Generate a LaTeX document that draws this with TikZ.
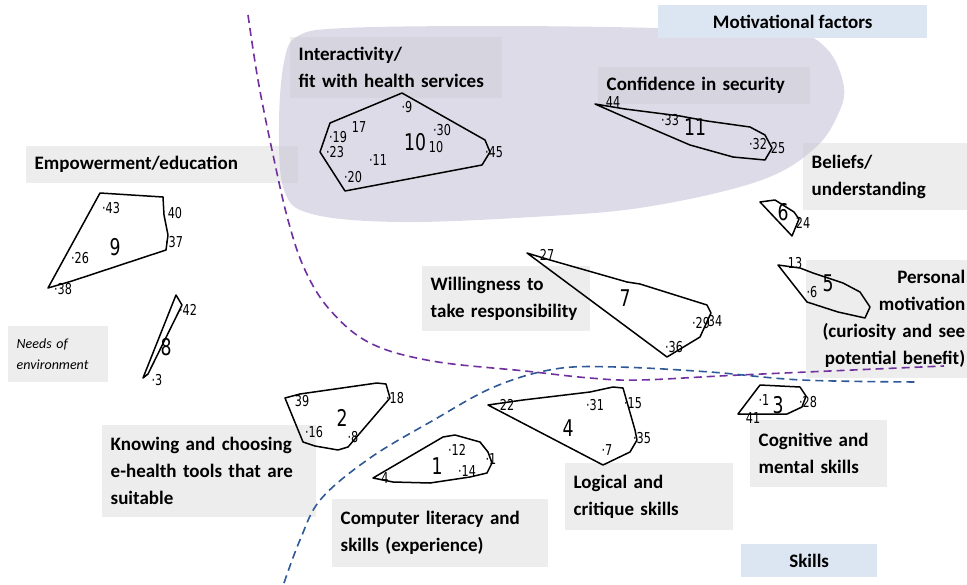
\documentclass[tikz,border=0pt]{standalone}
\usepackage{fontspec}
\setmainfont{Carlito}
\newfontfamily\numfont{DejaVu Sans}[FakeStretch=0.75]
\usepackage{tikz}
\usetikzlibrary{positioning}
\definecolor{blob}{RGB}{222,219,233}
\definecolor{labelgray}{RGB}{200,200,200}
\definecolor{factorblue}{RGB}{220,230,242}
\definecolor{divpurple}{RGB}{112,48,160}
\definecolor{divblue}{RGB}{46,89,150}

\begin{document}
\begin{tikzpicture}[x=1pt, y=-1pt,
    lbl/.style={anchor=north west, fill=labelgray, fill opacity=0.33, text opacity=1, inner xsep=8.5pt, inner ysep=0pt, align=left, font=\fontsize{19}{27}\selectfont\bfseries},
    cat/.style={anchor=north west, fill=factorblue, inner sep=0pt, align=center, font=\fontsize{19}{27}\selectfont\bfseries},
    hull/.style={draw, line width=1.5pt, line join=round},
    mem/.style={inner sep=0pt, font=\numfont\fontsize{15}{15}\selectfont},
    cid/.style={inner sep=0pt, font=\numfont\fontsize{23}{23}\selectfont},
    divider/.style={dash pattern=on 8pt off 5pt, line width=1.6pt}]
    \useasboundingbox (0,0) rectangle (967,584);

    \fill[blob] plot[smooth cycle, tension=0.6] coordinates {(298,36) (345,28) (496,26) (657,28) (789,33) (826,48) (843,82) (840,110) (815,148) (759,181) (646,207) (533,217) (400,222) (312,214) (284,190) (279,125) (284,62)};

    \node[cat, minimum width=269pt, minimum height=33pt] (motfac) at (658,5) {Motivational factors};
    \node[cat, minimum width=136pt, minimum height=33pt] (skills) at (741,544) {Skills};

    \node[lbl, text width=195pt, minimum height=61pt] (interact) at (290,37) {Interactivity/\\fit with health services};
    \node[lbl, text width=195pt, minimum height=37pt] (confid) at (598,67) {Confidence in security};
    \node[lbl, text width=255pt, minimum height=37pt] (empower) at (26,146) {Empowerment/education};
    \node[lbl, text width=155pt, minimum height=67pt] (beliefs) at (803,143) {Beliefs/\\understanding};
    \node[lbl, text width=151pt, minimum height=65pt] (willing) at (422,266) {Willingness to\\take responsibility};
    \node[lbl, inner xsep=6pt, align=right, text width=153pt, minimum height=118pt] (persmot) at (806,260) {Personal\\motivation\\(curiosity and see\\potential benefit)};
    \node[lbl, text width=83pt, minimum height=56pt, font=\fontsize{14}{21}\selectfont\itshape] (needs) at (8,326) {Needs of\\environment};
    \node[lbl, text width=197pt, minimum height=92pt] (knowing) at (102,425) {Knowing and choosing\\e-health tools that are\\suitable};
    \node[lbl, text width=199pt, minimum height=68pt] (complit) at (332,499) {Computer literacy and\\skills (experience)};
    \node[lbl, text width=151pt, minimum height=67pt] (logical) at (565,463) {Logical and\\critique skills};
    \node[lbl, text width=120pt, minimum height=67pt] (cognit) at (750,420) {Cognitive and\\mental skills};

    \draw[divider, divpurple] plot[smooth, tension=0.6] coordinates {(248,15) (258,80) (272,150) (288,220) (305,270) (330,310) (370,343) (432,361) (525,371) (590,378) (640,380) (740,375) (944,366)};
    \draw[divider, divblue] plot[smooth, tension=0.6] coordinates {(284,583) (300,540) (321,499) (370,458) (432,421) (494,387) (555,369) (617,367) (710,372) (802,380) (919,382)};

    \draw[hull] (402,93) -- (485,140) -- (490,152) -- (482,165) -- (345,191) -- (320,152) -- (330,123) -- cycle;
    \node[cid] (c10) at (415,142) {10};
    \node[mem] at (407,107) {·9};
    \node[mem] at (338,137) {·19};
    \node[mem] at (359,127) {17};
    \node[mem] at (335,152) {·23};
    \node[mem] at (378,160) {·11};
    \node[mem] at (442,130) {·30};
    \node[mem] at (436,147) {10};
    \node[mem] at (353,177) {·20};
    \node[mem] at (494,152) {·45};

    \draw[hull] (595,104) -- (625,109) -- (680,116) -- (707,121) -- (750,127) -- (765,135) -- (772,148) -- (765,160) -- (733,157) -- (690,145) -- (620,115) -- cycle;
    \node[cid] (c11) at (695,127) {11};
    \node[mem] at (613,102) {44};
    \node[mem] at (670,120) {·33};
    \node[mem] at (758,144) {·32};
    \node[mem] at (778,148) {25};

    \draw[hull] (100,193) -- (163,197) -- (164,215) -- (168,235) -- (166,250) -- (72,281) -- (48,288) -- cycle;
    \node[cid] (c9) at (115,247) {9};
    \node[mem] at (111,208) {·43};
    \node[mem] at (175,213) {40};
    \node[mem] at (174,242) {·37};
    \node[mem] at (80,258) {·26};
    \node[mem] at (63,289) {·38};

    \draw[hull] (176,295) -- (182,305) -- (148,374) -- (143,378) -- cycle;
    \node[cid] (c8) at (166,347) {8};
    \node[mem] at (188,310) {·42};
    \node[mem] at (157,380) {·3};

    \draw[hull] (527,253) -- (550,260) -- (627,282) -- (640,284) -- (707,305) -- (711,313) -- (700,337) -- (667,357) -- cycle;
    \node[cid] (c7) at (625,298) {7};
    \node[mem] at (547,255) {27};
    \node[mem] at (674,347) {·36};
    \node[mem] at (701,323) {·29};
    \node[mem] at (715,321) {34};

    \draw[hull] (760,202) -- (775,200) -- (794,212) -- (799,219) -- (792,236) -- cycle;
    \node[cid] (c6) at (783,212) {6};
    \node[mem] at (803,223) {24};

    \draw[hull] (778,265) -- (800,268) -- (813,273) -- (843,283) -- (860,292) -- (870,307) -- (865,318) -- (838,312) -- (807,302) -- cycle;
    \node[cid] (c5) at (828,283) {5};
    \node[mem] at (795,263) {13};
    \node[mem] at (812,292) {·6};

    \draw[hull] (285,398) -- (300,394) -- (377,383) -- (386,384) -- (390,398) -- (348,447) -- (338,450) -- (315,446) -- (303,442) -- cycle;
    \node[cid] (c2) at (342,418) {2};
    \node[mem] at (302,401) {39};
    \node[mem] at (395,398) {·18};
    \node[mem] at (314,432) {·16};
    \node[mem] at (353,437) {·8};

    \draw[hull] (373,478) -- (443,437) -- (455,435) -- (480,442) -- (488,452) -- (492,463) -- (487,473) -- (470,477) -- (430,483) -- (393,482) -- cycle;
    \node[cid] (c1) at (437,466) {1};
    \node[mem] at (385,478) {4};
    \node[mem] at (457,450) {·12};
    \node[mem] at (467,471) {·14};
    \node[mem] at (491,459) {·1};

    \draw[hull] (488,405) -- (523,400) -- (590,392) -- (613,387) -- (623,388) -- (635,430) -- (637,440) -- (630,452) -- (603,465) -- cycle;
    \node[cid] (c4) at (568,428) {4};
    \node[mem] at (507,405) {22};
    \node[mem] at (595,405) {·31};
    \node[mem] at (633,403) {·15};
    \node[mem] at (642,438) {·35};
    \node[mem] at (607,450) {·7};

    \draw[hull] (760,385) -- (800,387) -- (806,396) -- (802,407) -- (787,414) -- (738,414) -- cycle;
    \node[cid] (c3) at (778,405) {3};
    \node[mem] at (764,400) {·1};
    \node[mem] at (808,402) {·28};
    \node[mem] at (753,418) {41};
\end{tikzpicture}
\end{document}
